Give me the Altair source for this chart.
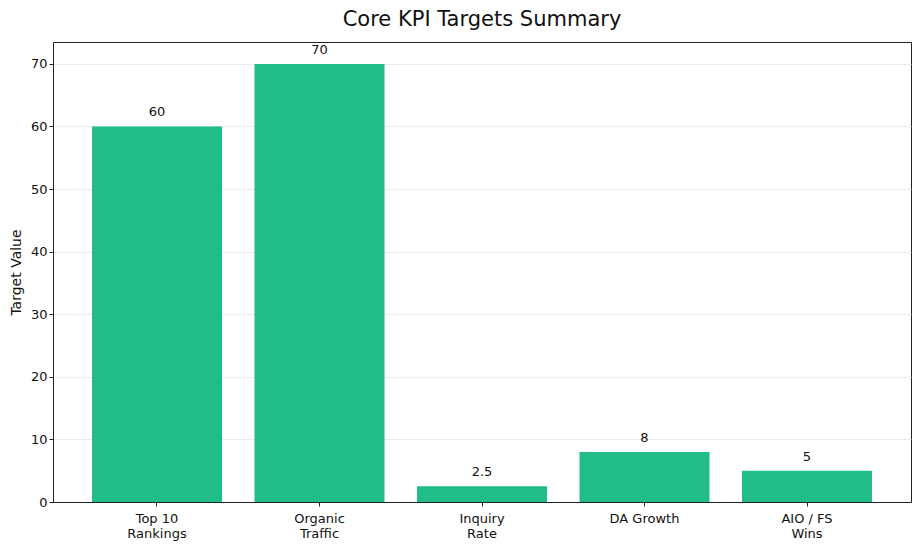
import altair as alt
import pandas as pd

# values
kpis = ["Top 10\nRankings", "Organic\nTraffic", "Inquiry\nRate", "DA Growth", "AIO / FS\nWins"]
targets = [60, 70, 2.5, 8, 5]
labels = ["60", "70", "2.5", "8", "5"]

df = pd.DataFrame({"KPI": kpis, "Target": targets, "Label": labels})

FONT = "DejaVu Sans"
GREEN = "#20BD87"

base = alt.Chart(df).encode(
    x=alt.X(
        "KPI:N",
        sort=kpis,
        title=None,
        scale=alt.Scale(paddingInner=0.2, paddingOuter=0.24),
        axis=alt.Axis(
            labelAngle=0,
            labelExpr="split(datum.label, '\\n')",
            labelFontSize=13,
            labelColor="#111",
            labelPadding=6,
            tickSize=4,
            tickColor="#222",
            domainColor="#222",
            grid=False,
        ),
    ),
    y=alt.Y(
        "Target:Q",
        title="Target Value",
        scale=alt.Scale(domain=[0, 73.5], nice=False),
        axis=alt.Axis(
            values=[0, 10, 20, 30, 40, 50, 60, 70],
            labelFontSize=13,
            labelColor="#111",
            titleFontSize=14,
            titleFontWeight="normal",
            titleColor="#111",
            titlePadding=7,
            tickSize=4,
            tickColor="#222",
            domainColor="#222",
            gridColor="#e6e6e6",
            gridWidth=0.8,
        ),
    ),
)

bars = base.mark_bar(color=GREEN)

text = base.mark_text(
    baseline="bottom", dy=-7, fontSize=13, font=FONT, color="#111"
).encode(text="Label:N")

chart = (
    (bars + text)
    .properties(
        width=858,
        height=460,
        autosize=alt.AutoSizeParams(type="none"),
        padding={"left": 45, "top": 34, "right": 1, "bottom": 40},
        title=alt.TitleParams(
            "Core KPI Targets Summary",
            fontSize=21,
            fontWeight="normal",
            font=FONT,
            color="#111",
            offset=12,
        ),
    )
    .configure(font=FONT)
    .configure_axis(labelFont=FONT, titleFont=FONT)
    .configure_view(stroke="#222", strokeWidth=1)
)

chart.save("out.html", embed_options={"renderer": "svg", "actions": False})
